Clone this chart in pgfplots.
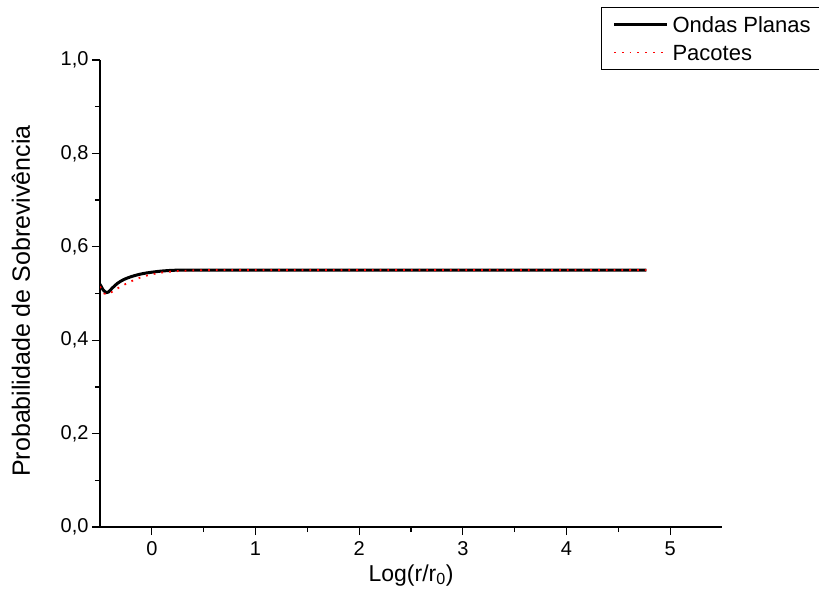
\documentclass[border=0pt]{standalone}
\usepackage{pgfplots}
\pgfplotsset{compat=1.18}
\usepackage{fontspec}
\setmainfont{Liberation Sans}
\pgfplotstableread{
x y
-0.50 0.520
-0.47 0.508
-0.44 0.502
-0.42 0.503
-0.38 0.512
-0.33 0.522
-0.27 0.530
-0.20 0.536
-0.12 0.541
-0.05 0.544
0.05 0.547
0.15 0.549
0.30 0.550
1.00 0.550
2.00 0.550
3.00 0.550
4.00 0.550
4.77 0.550
}\ondas
\pgfplotstableread{
x y
-0.50 0.515
-0.46 0.500
-0.43 0.498
-0.38 0.504
-0.30 0.515
-0.20 0.526
-0.10 0.535
0.00 0.541
0.10 0.545
0.25 0.548
0.50 0.550
1.00 0.550
2.00 0.550
3.00 0.550
4.00 0.550
4.77 0.550
}\pacotes
\begin{document}
\begin{tikzpicture}
\begin{axis}[
  at={(100pt,76pt)}, anchor=south west, scale only axis,
  width=622pt, height=467pt,
  xmin=-0.5, xmax=5.5, ymin=0, ymax=1,
  axis x line*=bottom, axis y line*=left,
  axis line style={line width=1.6pt,-},
  xtick={0,1,2,3,4,5}, minor x tick num=1,
  ytick={0,0.2,0.4,0.6,0.8,1.0}, minor y tick num=1,
  tick align=outside, major tick length=8pt, minor tick length=5pt,
  every tick/.style={black, line width=1.3pt},
  /pgf/number format/assume math mode=true,
  yticklabel style={/pgf/number format/fixed, /pgf/number format/fixed zerofill,
    /pgf/number format/precision=1, /pgf/number format/use comma,
    font=\fontsize{20}{23}\selectfont},
  xticklabel style={yshift=-3pt, font=\fontsize{20}{23}\selectfont},
  xlabel={Log(r/r\textsubscript{0})},
  ylabel={Probabilidade de Sobrevivência},
  every axis x label/.style={at={(axis description cs:0.5,-0.103)}, anchor=center,
    font=\fontsize{23}{26}\selectfont},
  every axis y label/.style={at={(axis description cs:-0.127,0.484)}, rotate=90, anchor=center,
    font=\fontsize{25}{28}\selectfont},
  legend style={at={(0.8055,1.1135)}, anchor=north west, draw=black, line width=1pt,
    font=\fontsize{22}{24}\selectfont, inner xsep=11pt, inner ysep=3pt, row sep=0pt,
    column sep=4pt,
    nodes={inner sep=0pt, text height=21.9pt, text depth=6.1pt}},
  legend cell align=left,
  legend image code/.code={\draw[#1] (0pt,0pt) -- (53pt,0pt);},
]
\addplot[black, line width=3pt, smooth] table[x=x,y=y]{\ondas};
\addlegendentry{Ondas Planas}
\addplot[red, line width=1.8pt, dash pattern=on 1.8pt off 6pt, smooth] table[x=x,y=y]{\pacotes};
\addlegendentry{Pacotes}
\end{axis}
\pgfresetboundingbox
\path[use as bounding box] (0,0) rectangle (819pt,603pt);
\end{tikzpicture}
\end{document}
